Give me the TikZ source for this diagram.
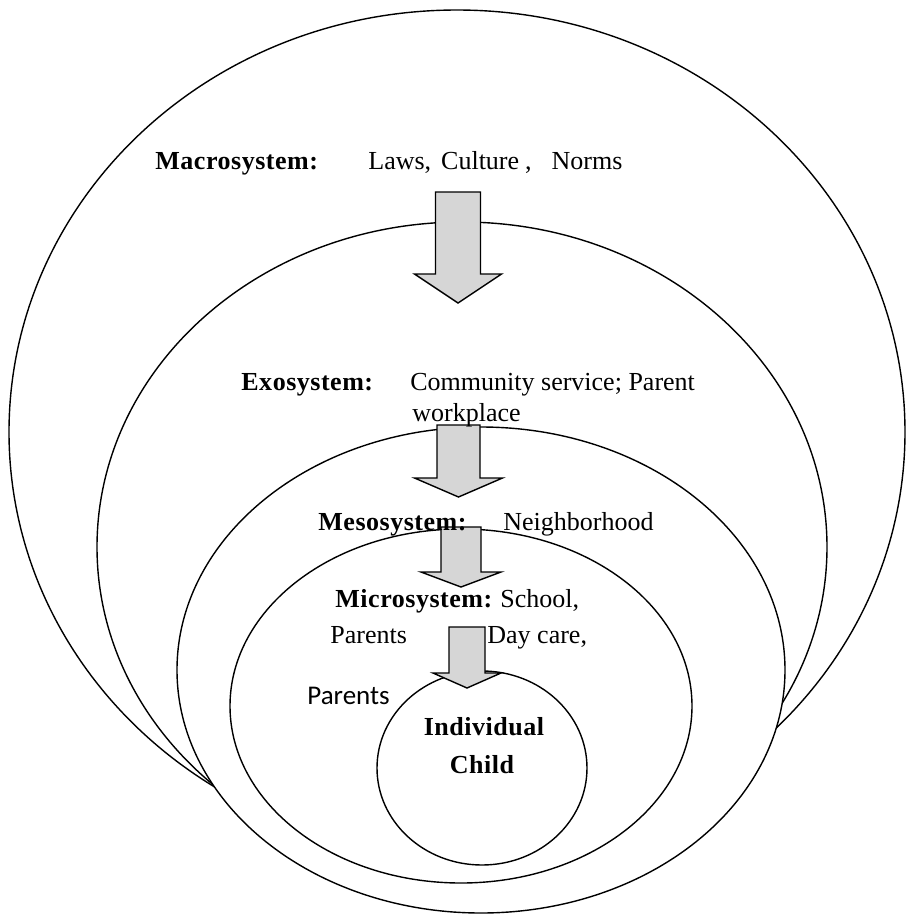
\documentclass[tikz,border=0pt]{standalone}
\usepackage{fontspec}
\setmainfont{Liberation Serif}
\newfontfamily\sysfont[LetterSpace=2]{Liberation Serif}
\newfontfamily\calibfont{Carlito}
\usetikzlibrary{shapes.geometric}

\begin{document}
\begin{tikzpicture}[x=0.5pt, y=-0.5pt,
    layer/.style={draw, ellipse, fill=white, line width=0.7pt, inner sep=0pt},
    blockarrow/.style={draw, fill=black!16, line width=0.7pt, line join=miter},
    syslabel/.style={anchor=base west, inner sep=0pt, font=\fontsize{13}{15}\sysfont\bfseries},
    itemlabel/.style={anchor=base west, inner sep=0pt, font=\fontsize{13}{15}\selectfont}]
    \useasboundingbox (0,0) rectangle (907,917);

    % Nested systems, largest first
    \foreach \name/\cx/\cy/\w/\h in {macro/457/432/896/844, exo/462/547/730/650, meso/481/670/608/486, micro/461/706/462/354, child/482/768/210/194} {
        \node[layer, minimum width=\w*0.5pt, minimum height=\h*0.5pt] (\name) at (\cx,\cy) {};
    }

    % Block arrows between the levels
    \foreach \c/\s/\h/\t/\b/\p in {458/22.5/43.5/192/274/303, 458.5/21.5/44/425/478/497, 461/20/40/527/572/587, 467/18/34/627/673/688} {
        \draw[blockarrow] ({\c-\s},\t) -- ({\c+\s},\t) -- ({\c+\s},\b) -- ({\c+\h},\b) -- (\c,\p) -- ({\c-\h},\b) -- ({\c-\s},\b) -- cycle;
    }

    % Macrosystem
    \node[syslabel] (macrolab) at (155,169) {Macrosystem:};
    \node[itemlabel] (macroitems) at (368,169) {Laws,\hspace{5pt}Culture\hspace{3pt},\hspace{10pt}Norms};

    % Exosystem
    \node[syslabel] (exolab) at (241,390) {Exosystem:};
    \node[itemlabel] (exoitems) at (410,390) {Community service; Parent};
    \node[itemlabel] (exoitems2) at (412,421) {workplace};

    % Mesosystem
    \node[syslabel] (mesolab) at (318,530) {Mesosystem:};
    \node[itemlabel] (mesoitems) at (503,530) {Neighborhood};

    % Microsystem
    \node[syslabel] (microlab) at (335,607) {Microsystem:};
    \node[itemlabel] (microitems) at (500,607) {School,};
    \node[itemlabel] (parents) at (330,643) {Parents};
    \node[itemlabel] (daycare) at (487,643) {Day care,};
    \node[itemlabel, font=\fontsize{13.5}{15}\calibfont] (parents2) at (307,704) {Parents};

    % Individual child
    \node[syslabel, anchor=base] (childlab) at (484,735) {Individual};
    \node[syslabel, anchor=base] (childlab2) at (482,773) {Child};
\end{tikzpicture}
\end{document}
